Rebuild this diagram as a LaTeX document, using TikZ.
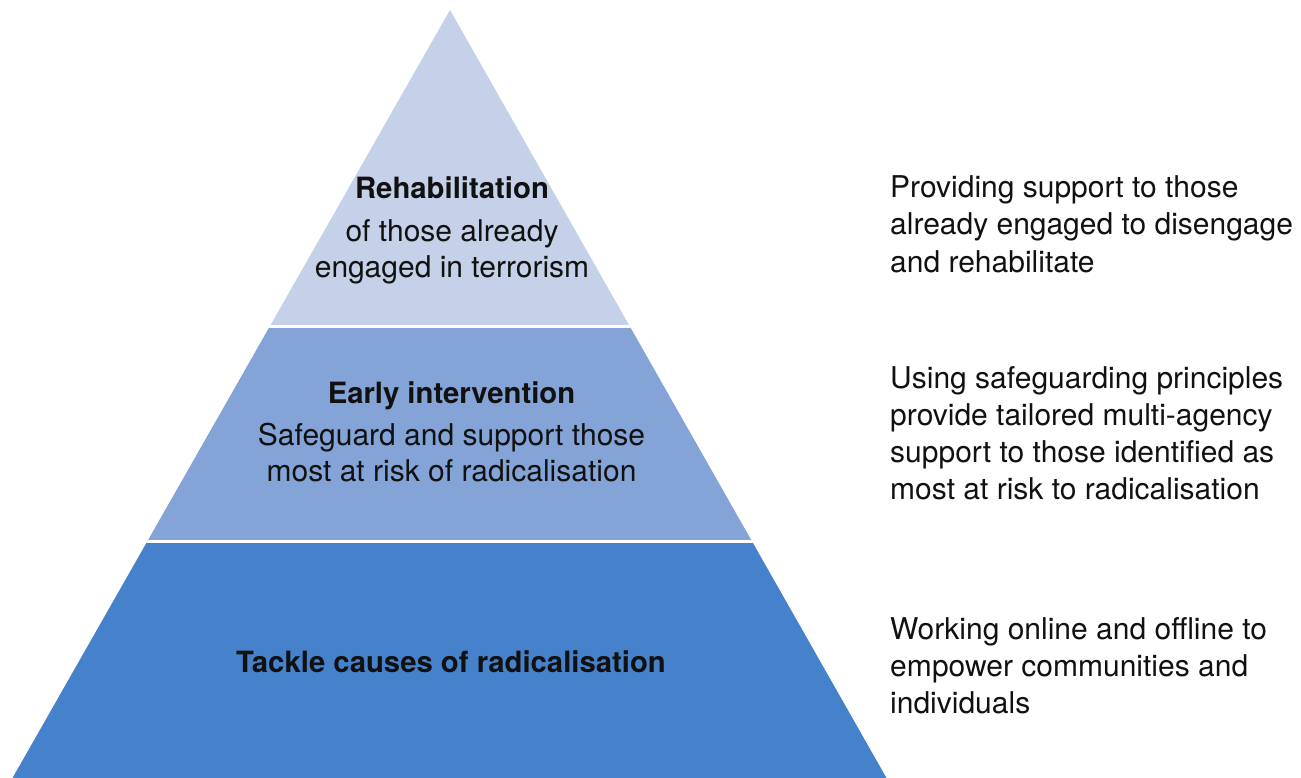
\documentclass[tikz,border=0pt]{standalone}
\usepackage{fontspec}
\setmainfont{TeX Gyre Heros}
\definecolor{bandtop}{HTML}{C4D1E8}
\definecolor{bandmid}{HTML}{84A3D6}
\definecolor{bandbot}{HTML}{4681CB}
\definecolor{txt}{HTML}{111111}
\begin{document}
\begin{tikzpicture}[x=1pt,y=-1pt,
  lbl/.style={inner sep=0pt,text=txt,font=\fontsize{30}{37}\selectfont},
  head/.style={lbl,anchor=base,font=\fontsize{29.3}{37}\selectfont\bfseries},
  sub/.style={lbl,anchor=base},
  side/.style={lbl,anchor=base west}]
\useasboundingbox (0,0) rectangle (1301,778);
% pyramid
\coordinate (apex) at (450,10);
\coordinate (bl) at (12.5,778);
\coordinate (br) at (886.5,778);
\begin{scope}
  \clip (apex) -- (br) -- (bl) -- cycle;
  \fill[bandtop] (0,0) rectangle (1301,326);
  \fill[bandmid] (0,326) rectangle (1301,541.5);
  \fill[bandbot] (0,541.5) rectangle (1301,778);
  \draw[white,line width=3pt] (0,326) -- (1301,326);
  \draw[white,line width=3pt] (0,541.5) -- (1301,541.5);
\end{scope}
% pyramid texts
\node[head] (h1) at (452,199) {Rehabilitation};
\node[sub] (h1a) at (452,241) {of those already};
\node[sub] (h1b) at (452,277) {engaged in terrorism};
\node[head] (h2) at (451.5,403) {Early intervention};
\node[sub] (h2a) at (451.5,445) {Safeguard and support those};
\node[sub] (h2b) at (451.5,481) {most at risk of radicalisation};
\node[head] (h3) at (451,672) {Tackle causes of radicalisation};
% side texts
\node[side] (s1a) at (890,198) {Providing support to those};
\node[side] (s1b) at (890,235) {already engaged to disengage};
\node[side] (s1c) at (890,272) {and rehabilitate};
\node[side] (s2a) at (890,388) {Using safeguarding principles};
\node[side] (s2b) at (890,425) {provide tailored multi-agency};
\node[side] (s2c) at (890,462) {support to those identified as};
\node[side] (s2d) at (890,499) {most at risk to radicalisation};
\node[side] (s3a) at (890,639) {Working online and offline to};
\node[side] (s3b) at (890,676) {empower communities and};
\node[side] (s3c) at (890,713) {individuals};
\end{tikzpicture}
\end{document}
